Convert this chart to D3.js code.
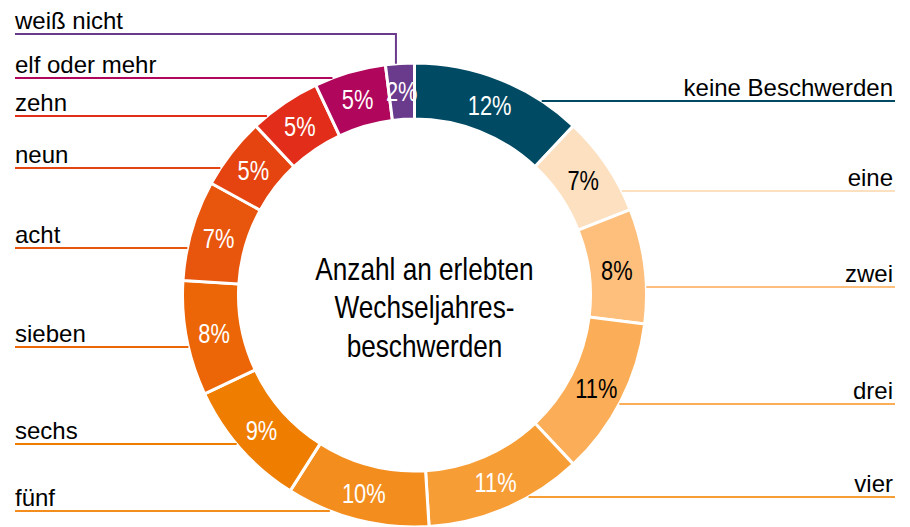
<!DOCTYPE html>
<html><head><meta charset="utf-8">
<script src="https://cdn.jsdelivr.net/npm/d3@7"></script>
<style>
html,body{margin:0;padding:0;background:#fff;}
svg text{font-family:"Liberation Sans",Arial,sans-serif;}
</style></head>
<body>
<svg id="chart" width="910" height="527"></svg>
<script>
// Data
const categories = ["keine Beschwerden","eine","zwei","drei","vier","fünf","sechs","sieben","acht","neun","zehn","elf oder mehr","weiß nicht"];
const values = [12,7,8,11,11,10,9,8,7,5,5,5,2];
const colors = ["#004a63","#fde0c0","#fdbf7b","#fbae57","#f69d36","#f28d1e","#ee7d00","#ec6608","#e8550c","#e54410","#e12d19","#b0065c","#6a3a8c"];
const darkText = [false,true,true,true,false,false,false,false,false,false,false,false,false];
const centerTitle = ["Anzahl an erlebten","Wechseljahres-","beschwerden"];
// Layout (label leader line y positions)
const labelLineY = [101,191,287,404,497,511,444,347,248,168,116,78,34];

const svg = d3.select("#chart");
const cx = 414.5, cy = 295, R = 232, r = 176;

const pie = d3.pie().sort(null).value(d => d)(values);
const arc = d3.arc().innerRadius(r).outerRadius(R);
const g = svg.append("g").attr("transform", `translate(${cx},${cy})`);

g.selectAll("path.slice").data(pie).join("path")
  .attr("class","slice")
  .attr("d", arc)
  .attr("fill", (d,i) => colors[i])
  .attr("stroke","#fff").attr("stroke-width",3).attr("stroke-linejoin","miter");

g.selectAll("text.pct").data(pie).join("text")
  .attr("class","pct")
  .attr("transform", d => `translate(${arc.centroid(d)}) scale(0.78,1)`)
  .attr("text-anchor","middle").attr("dy","0.36em")
  .attr("font-size",28)
  .attr("fill", (d,i) => darkText[i] ? "#000" : "#fff")
  .text(d => d.value + "%");

// Leader lines + labels
const lines = svg.append("g");
pie.forEach((d,i) => {
  const mid = (d.startAngle + d.endAngle)/2;
  const right = mid < Math.PI;
  const y = labelLineY[i];
  const dy = y - cy;
  let pathStr;
  if (y < cy - R + 5) {
    const xm = cx + R*Math.sin(mid) - 4;
    const ym = cy - Math.sqrt(R*R - (xm-cx)*(xm-cx));
    pathStr = `M15,${y}H${xm}V${ym}`;
  } else {
    const dx = Math.sqrt(R*R - dy*dy);
    const xArc = right ? cx + dx : cx - dx;
    pathStr = right ? `M${xArc},${y}H895` : `M15,${y}H${xArc}`;
  }
  lines.append("path").attr("d", pathStr).attr("fill","none")
    .attr("stroke", colors[i]).attr("stroke-width",2);
  lines.append("text")
    .attr("x", right ? 893 : 15).attr("y", y - 5)
    .attr("text-anchor", right ? "end" : "start")
    .attr("font-size",24).attr("fill","#000")
    .text(categories[i]);
});

// Center title
const ct = svg.append("g");
centerTitle.forEach((t,i) => {
  ct.append("text")
    .attr("transform", `translate(${cx+10},${279.5 + i*38.5}) scale(0.845,1)`)
    .attr("text-anchor","middle").attr("font-size",31).attr("fill","#000")
    .text(t);
});
</script>
</body></html>
